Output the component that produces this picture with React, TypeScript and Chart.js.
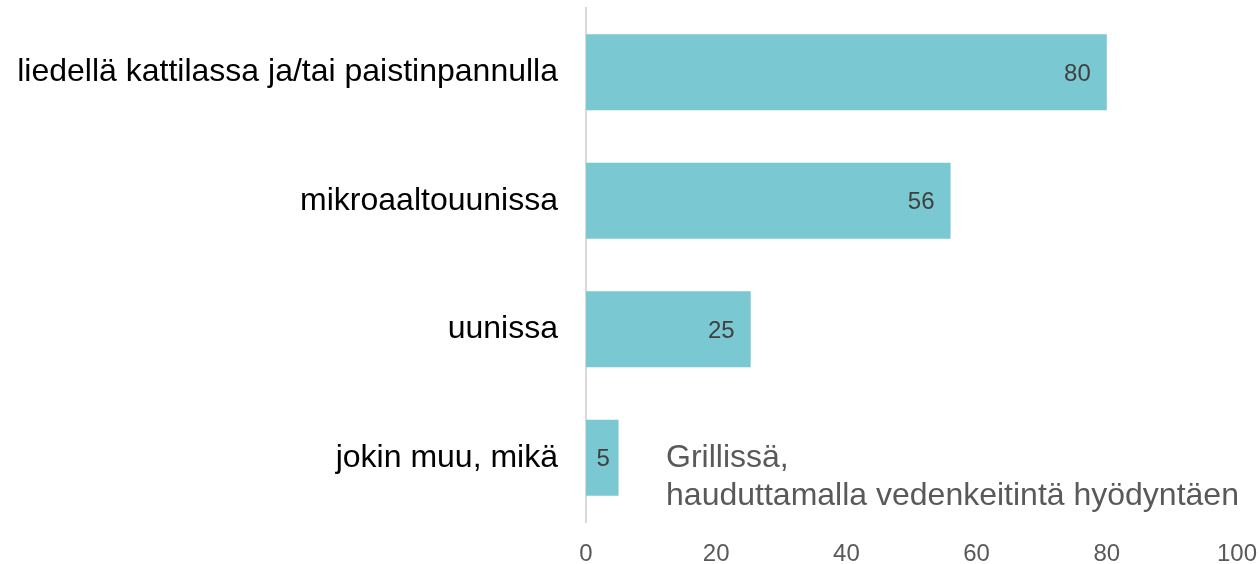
import React, { useEffect, useRef } from "react";
import { Chart, registerables } from "chart.js";

Chart.register(...registerables);

const categories = [
  "liedellä kattilassa ja/tai paistinpannulla",
  "mikroaaltouunissa",
  "uunissa",
  "jokin muu, mikä",
];
const values = [80, 56, 25.3, 5];
const valueLabels = ["80", "56", "25", "5"];
const xTicks = [0, 20, 40, 60, 80, 100];
const noteLines = ["Grillissä,", "hauduttamalla vedenkeitintä hyödyntäen"];

const FONT = "'Liberation Sans', Arial, sans-serif";

const labelPlugin = {
  id: "valueLabels",
  afterDatasetsDraw(chart: any) {
    const ctx = chart.ctx;
    const meta = chart.getDatasetMeta(0);
    ctx.save();
    ctx.font = `24px ${FONT}`;
    ctx.fillStyle = "#404040";
    ctx.textBaseline = "middle";
    meta.data.forEach((bar: any, i: number) => {
      const w = bar.x - bar.base;
      if (w > 50) {
        ctx.textAlign = "right";
        ctx.fillText(valueLabels[i], bar.x - 16, bar.y + 2);
      } else {
        ctx.textAlign = "center";
        ctx.fillText(valueLabels[i], (bar.x + bar.base) / 2 + 1, bar.y + 2);
      }
    });
    // annotation
    const xs = chart.scales.x;
    const ys = chart.scales.y;
    const ax = xs.getPixelForValue(12.3);
    const ay = ys.getPixelForValue(3);
    ctx.font = `32px ${FONT}`;
    ctx.fillStyle = "#595959";
    ctx.textAlign = "left";
    ctx.fillText(noteLines[0], ax, ay);
    ctx.fillText(noteLines[1], ax, ay + 38);
    ctx.restore();
  },
};

export default function App() {
  const ref = useRef<HTMLCanvasElement>(null);
  useEffect(() => {
    document.body.style.margin = "0";
    const chart = new Chart(ref.current!, {
      type: "bar",
      data: {
        labels: categories,
        datasets: [
          {
            data: values,
            backgroundColor: "#7AC8D1",
            borderWidth: 0,
            barPercentage: 0.59,
            categoryPercentage: 1,
          },
        ],
      },
      options: {
        indexAxis: "y",
        animation: false,
        responsive: false,
        layout: { padding: { top: 8, right: 23, left: 0, bottom: 0 } },
        plugins: { legend: { display: false }, tooltip: { enabled: false } },
        scales: {
          x: {
            min: 0,
            max: 100,
            afterBuildTicks: (s: any) => {
              s.ticks = xTicks.map((v) => ({ value: v }));
            },
            afterFit: (s: any) => {
              s.height = 42;
              s.paddingLeft = 0;
              s.paddingRight = 0;
            },
            grid: { display: false },
            border: { display: false },
            ticks: {
              color: "#595959",
              font: { family: FONT, size: 24 },
              padding: 10,
              maxRotation: 0,
            },
          },
          y: {
            afterFit: (s: any) => {
              s.width = 586;
              s.paddingTop = 0;
              s.paddingBottom = 0;
            },
            grid: { display: false, drawTicks: false },
            border: { display: true, color: "#D9D9D9", width: 2 },
            ticks: {
              color: "#000000",
              font: { family: FONT, size: 32 },
              padding: 28,
            },
          },
        },
      },
      plugins: [labelPlugin],
    });
    return () => chart.destroy();
  }, []);
  return (
    <div style={{ position: "absolute", left: 0, top: 0, width: 1260, height: 564 }}>
      <canvas ref={ref} width={1260} height={564} />
    </div>
  );
}
